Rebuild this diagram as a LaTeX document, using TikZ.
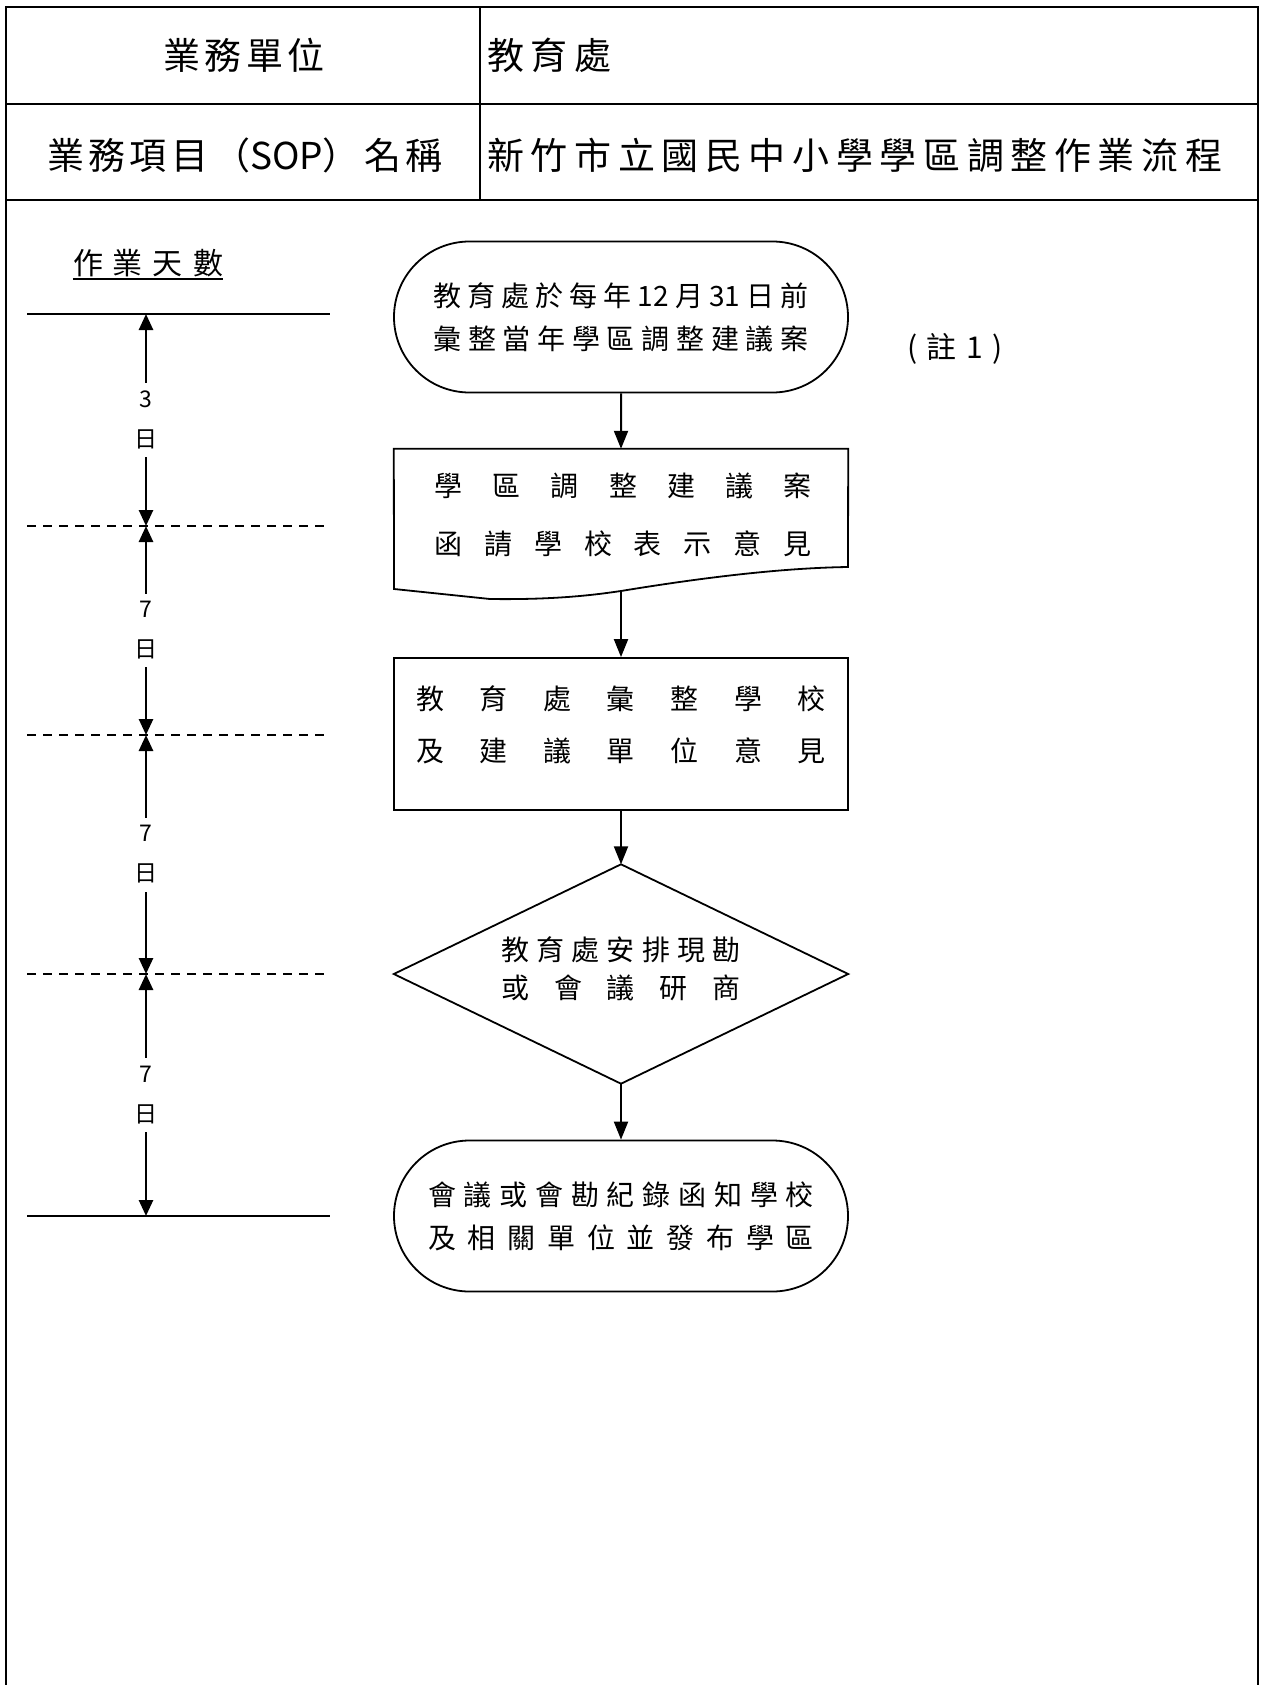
\documentclass[tikz,border=0pt]{standalone}
\usepackage{fontspec}
\setmainfont{Noto Sans CJK TC}
\usetikzlibrary{arrows.meta,shapes.misc}

\newcommand{\spread}[2]{\makebox[#1][s]{\spaceskip=0pt plus 1fill\relax #2}}

\begin{document}
\begin{tikzpicture}[x=1pt, y=-1pt,
        hd/.style={inner sep=0pt, font=\fontsize{37}{40}\selectfont},
        term/.style={draw, rounded rectangle, line width=1.8pt, minimum width=454pt, minimum height=151pt, inner sep=0pt, align=center, font=\fontsize{28}{43}\selectfont},
        flowtext/.style={inner sep=0pt, align=center, font=\fontsize{28}{52}\selectfont},
        dayarrow/.style={line width=2.6pt, {Triangle[length=16pt,width=14pt]}-{Triangle[length=16pt,width=14pt]}},
        daylbl/.style={fill=white, align=center, inner sep=8pt, font=\fontsize{23}{40}\selectfont}]
        \useasboundingbox (0,0) rectangle (1263,1685);

        % table frame
        \draw[line width=2.5pt] (6,1685) -- (6,7) -- (1258,7) -- (1258,1685);
        \draw[line width=2pt] (6,104) -- (1258,104);
        \draw[line width=2pt] (6,200) -- (1258,200);
        \draw[line width=2pt] (480,7) -- (480,200);

        \begin{scope}[every node/.style={hd}]
                \node (unit) at (244,55) {\spread{162pt}{業 務 單 位}};
                \node[anchor=west] (dept) at (487,55) {\spread{124pt}{教 育 處}};
                \node (item) at (245,155) {\spread{396pt}{業 務 項 目 （SOP） 名 稱}};
                \node[anchor=west] (sopname) at (487,155) {\spread{735pt}{新 竹 市 立 國 民 中 小 學 學 區 調 整 作 業 流 程}};
        \end{scope}

        % work days
        \node[inner sep=0pt, font=\fontsize{30}{34}\selectfont] (days) at (148,263) {\spread{150pt}{作 業 天 數}};
        \draw[line width=1.5pt] ([yshift=-2pt]days.south west) -- ([yshift=-2pt]days.south east);
        \foreach \y in {314,1216}
                \draw[line width=1.5pt] (27,\y) -- (330,\y);
        \foreach \y in {526,735,974}
                \draw[line width=1.2pt, dash pattern=on 9pt off 7pt] (27,\y) -- (330,\y);
        \coordinate (d0) at (146,314);
        \coordinate (d1) at (146,526);
        \coordinate (d2) at (146,735);
        \coordinate (d3) at (146,974);
        \coordinate (d4) at (146,1216);
        \draw[dayarrow] (d0) -- node[daylbl] {3\\日} (d1);
        \draw[dayarrow] (d1) -- node[daylbl] {7\\日} (d2);
        \draw[dayarrow] (d2) -- node[daylbl] {7\\日} (d3);
        \draw[dayarrow] (d3) -- node[daylbl] {7\\日} (d4);

        % flow
        \node[term] (start) at (621,317) {\spread{375pt}{教 育 處 於 每 年 12 月 31 日 前}\\\spread{375pt}{彙 整 當 年 學 區 調 整 建 議 案}};
        \node[font=\fontsize{30}{34}\selectfont, inner sep=0pt] (note) at (955,349) {\spread{96pt}{( 註 1 )}};

        \node[minimum width=454pt, minimum height=142pt, inner sep=0pt] (doc) at (621,520) {};
        \draw[line width=1.8pt] (doc.north west) -- (doc.north east) -- (848,567)
                .. controls (780,568) and (700,578) .. (621,591)
                .. controls (600,594) and (560,600) .. (490,599) -- (394,589) -- cycle;
        \coordinate (docout) at (621,591);
        \node[flowtext, font=\fontsize{28}{58}\selectfont] (doctext) at (623,515) {\spread{377pt}{學 區 調 整 建 議 案}\\\spread{377pt}{函 請 學 校 表 示 意 見}};

        \node[draw, line width=1.8pt, minimum width=454pt, minimum height=152pt, inner sep=0pt] (collect) at (621,734) {};
        \node[flowtext] (collecttext) at (621,725) {\spread{410pt}{教 育 處 彙 整 學 校}\\\spread{410pt}{及 建 議 單 位 意 見}};

        \node[minimum width=454pt, minimum height=219pt, inner sep=0pt] (meet) at (621,974) {};
        \draw[line width=1.8pt] (meet.north) -- (meet.east) -- (meet.south) -- (meet.west) -- cycle;
        \node[flowtext, font=\fontsize{28}{38}\selectfont] (meettext) at (621,969) {\spread{239pt}{教 育 處 安 排 現 勘}\\\spread{239pt}{或 會 議 研 商}};

        \node[term] (stop) at (621,1216) {\spread{386pt}{會 議 或 會 勘 紀 錄 函 知 學 校}\\\spread{386pt}{及 相 關 單 位 並 發 布 學 區}};

        \begin{scope}[every path/.style={line width=2pt, -{Triangle[length=18pt,width=14pt]}}]
                \path (start) edge (doc);
                \path (docout) edge (collect);
                \path (collect) edge (meet);
                \path (meet) edge (stop);
        \end{scope}
\end{tikzpicture}
\end{document}
